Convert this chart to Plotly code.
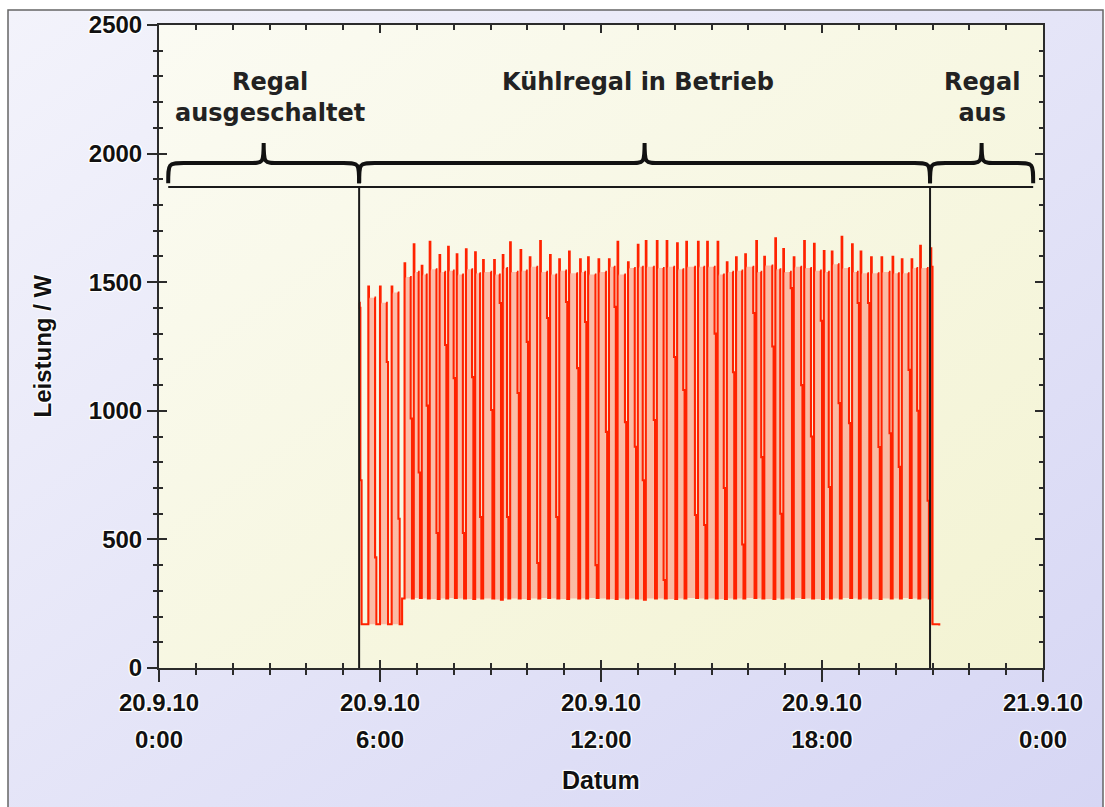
import base64
import pandas as pd
import plotly.graph_objects as go

# ---------------- data ----------------
DAY = "2010-09-20"
X_START = "2010-09-20 00:00"
X_END = "2010-09-21 00:00"

tick_hours = [0, 6, 12, 18, 24]
tick_dates = ["20.9.10", "20.9.10", "20.9.10", "20.9.10", "21.9.10"]
tick_times = ["0:00", "6:00", "12:00", "18:00", "0:00"]

phase_labels = ["Regal<br>ausgeschaltet", "Kühlregal in Betrieb", "Regal<br>aus"]
phase_bounds = ["00:15", "05:26", "20:56", "23:44"]
marker_level = 1870   # W, horizontal line under the braces

# switch-on transient
start_times = ["05:26", "05:27", "05:28", "05:30"]
start_values = [1420, 1400, 730, 170]

# compressor cycles (on / off times, power values in W)
cycle_on = ["05:41", "06:00", "06:19", "06:40", "06:55", "07:08", "07:21", "07:37", "07:51", "08:05",
            "08:20", "08:35", "08:48", "09:06", "09:20", "09:32", "09:49", "10:04", "10:21", "10:37",
            "10:52", "11:08", "11:26", "11:39", "11:56", "12:13", "12:27", "12:44", "13:00", "13:13",
            "13:31", "13:47", "14:04", "14:19", "14:38", "14:53", "15:10", "15:25", "15:40", "15:55",
            "16:13", "16:26", "16:44", "16:57", "17:14", "17:31", "17:47", "18:03", "18:16", "18:32",
            "18:49", "19:03", "19:20", "19:37", "19:55", "20:10", "20:26", "20:40", "20:57"]
cycle_off = ["05:52", "06:11", "06:30", "06:50", "07:03", "07:16", "07:32", "07:46", "08:00", "08:15",
             "08:30", "08:43", "09:01", "09:15", "09:27", "09:44", "09:59", "10:16", "10:32", "10:47",
             "11:03", "11:21", "11:34", "11:51", "12:08", "12:22", "12:39", "12:55", "13:08", "13:26",
             "13:42", "13:59", "14:14", "14:33", "14:48", "15:05", "15:20", "15:35", "15:50", "16:08",
             "16:21", "16:39", "16:52", "17:09", "17:26", "17:42", "17:58", "18:11", "18:27", "18:44",
             "18:58", "19:15", "19:32", "19:50", "20:05", "20:21", "20:35", "20:52", "21:00"]
cycle_peak = [1483, 1483, 1483, 1573, 1647, 1564, 1657, 1606, 1638, 1608,
              1628, 1616, 1586, 1586, 1606, 1655, 1625, 1597, 1660, 1606,
              1589, 1619, 1589, 1597, 1589, 1589, 1657, 1577, 1645, 1660,
              1660, 1660, 1651, 1657, 1657, 1657, 1657, 1577, 1597, 1608,
              1660, 1599, 1671, 1629, 1597, 1660, 1649, 1621, 1619, 1677,
              1647, 1619, 1597, 1597, 1599, 1589, 1589, 1642, 1632]
cycle_plateau = [1440, 1420, 1460, 1520, 1540, 1530, 1550, 1540, 1545, 1530,
                 1550, 1535, 1540, 1530, 1555, 1540, 1545, 1560, 1540, 1530,
                 1545, 1535, 1540, 1530, 1540, 1560, 1530, 1555, 1560, 1560,
                 1555, 1560, 1550, 1560, 1560, 1560, 1530, 1540, 1545, 1560,
                 1540, 1565, 1550, 1540, 1560, 1555, 1545, 1540, 1570, 1555,
                 1540, 1535, 1535, 1540, 1535, 1535, 1555, 1555, 1560]
cycle_mid = [430, 1190, 580, 970, 760, 1020, 525, 1256, 1127, 525,
             1131, 587, 1003, 1419, 587, 1069, 1268, 408, 1361, 587,
             1423, 1166, 1345, 400, 918, 1404, 956, 860, 730, 964,
             342, 1209, 1081, 595, 556, 1300, 700, 1150, 480, 1380,
             820, 1250, 600, 1477, 1100, 900, 1350, 704, 1030, 952,
             1419, 1419, 859, 913, 782, 1159, 1000, 650, 170]
cycle_low = [170, 170, 170, 270, 272, 270, 268, 270, 272, 270,
             268, 270, 270, 266, 270, 270, 268, 270, 272, 270,
             268, 270, 270, 272, 270, 268, 270, 270, 266, 270,
             270, 268, 270, 272, 270, 270, 268, 270, 270, 272,
             270, 268, 270, 270, 272, 270, 268, 270, 270, 272,
             270, 270, 268, 270, 270, 272, 270, 270, 170]

# base-load step and switch-off tail
step_times = ["06:36"]
step_values = [270]
end_times = ["21:11"]
end_values = [165]

# ---------------- build series ----------------
def T(hhmm):
    return pd.Timestamp(f"{DAY} {hhmm}")

MIN = pd.Timedelta(minutes=1)
line_pts = []          # (time, value) of the measured curve, None = pen up
fill_x, fill_y = [], []  # running periods (lighter band)
for t, v in zip(start_times, start_values):
    line_pts.append((T(t), v))
for i in range(len(cycle_on)):
    on, off, low = T(cycle_on[i]), T(cycle_off[i]), cycle_low[i]
    line_pts += [(on, cycle_peak[i]), (on + MIN, cycle_plateau[i]), (on + 2 * MIN, cycle_plateau[i]),
                 (on + 2 * MIN, None),
                 (off - MIN, cycle_plateau[i]), (off, cycle_mid[i]), (off + 2 * MIN, low)]
    fill_x += [on, on, off, off, on, None]
    fill_y += [low, cycle_plateau[i], cycle_plateau[i], low, low, None]
for t, v in zip(step_times, step_values):
    line_pts.append((T(t), v))
for t, v in zip(end_times, end_values):
    line_pts.append((T(t), v))
line_pts = sorted(line_pts, key=lambda p: p[0])   # stable: keeps pen-up order
line_x = [p[0] for p in line_pts]
line_y = [p[1] for p in line_pts]

# ---------------- layout helpers ----------------
W, H = 1105, 807
PL, PR, PT, PB = 159, 1043, 25, 668


def px_x(px):
    return (px - PL) / (PR - PL)


def px_y(py):
    return (PB - py) / (PB - PT)


def hx(hours):
    return hours / 24.0


def wy(watt):
    return watt / 2500.0


def hours_of(hhmm):
    h, m = hhmm.split(":")
    return int(h) + int(m) / 60.0


def svg_uri(c0, c1):
    svg = ('<svg xmlns="http://www.w3.org/2000/svg" width="200" height="200" preserveAspectRatio="none">'
           '<defs><linearGradient id="g" x1="0" y1="0" x2="1" y2="1">'
           f'<stop offset="0" stop-color="{c0}"/><stop offset="1" stop-color="{c1}"/>'
           '</linearGradient></defs><rect width="200" height="200" fill="url(#g)"/></svg>')
    return "data:image/svg+xml;base64," + base64.b64encode(svg.encode()).decode()


AX = "#2b2b2b"
SHADOW = "1px 1px 0 #fff, -1px -1px 0 #fff, 1px -1px 0 #fff, -1px 1px 0 #fff, 0 0 3px #fff"
tickfont = dict(family="Liberation Sans", size=28.5, weight="bold", color="#111", shadow=SHADOW)

fig = go.Figure()
fig.add_trace(go.Scatter(x=fill_x, y=fill_y, mode="lines", fill="toself",
                         fillcolor="rgba(255,115,95,0.45)", line=dict(width=0),
                         showlegend=False, hoverinfo="skip"))
fig.add_trace(go.Scatter(x=line_x, y=line_y, mode="lines", connectgaps=False,
                         line=dict(color="#ff2200", width=2.1, shape="hv"), showlegend=False))
# dummy trace for the overlay axes (inside ticks)
fig.add_trace(go.Scatter(x=[X_START], y=[None], xaxis="x2", yaxis="y2", showlegend=False, hoverinfo="skip"))

tickvals = [pd.Timestamp(X_START) + pd.Timedelta(hours=h) for h in tick_hours]
ticktext = [f"<span style='font-size:24px'>{d}</span><br><span style='font-size:24px'>{t}</span>"
            for d, t in zip(tick_dates, tick_times)]

common_x = dict(type="date", range=[X_START, X_END], tickvals=tickvals, showgrid=False, zeroline=False,
                showline=True, linecolor=AX, linewidth=2, tickcolor=AX, tickwidth=2)
common_y = dict(range=[0, 2500], dtick=500, tick0=0, showgrid=False, zeroline=False,
                showline=True, linecolor=AX, linewidth=2, tickcolor=AX, tickwidth=2)

fig.update_layout(
    width=W, height=H,
    margin=dict(l=PL, r=W - PR, t=PT, b=H - PB, autoexpand=False),
    paper_bgcolor="white", plot_bgcolor="rgba(0,0,0,0)",
    xaxis=dict(**common_x, ticktext=ticktext, ticks="outside", ticklen=12, tickfont=tickfont,
               ticklabelstandoff=-5,
               minor=dict(dtick=3600000, ticks="outside", ticklen=5, tickwidth=2, tickcolor=AX)),
    xaxis2=dict(**common_x, overlaying="x", anchor="y2", side="bottom", ticks="inside", ticklen=8,
                mirror="allticks", showticklabels=False,
                minor=dict(dtick=3600000, ticks="inside", ticklen=5, tickwidth=2, tickcolor=AX)),
    yaxis=dict(**common_y, ticks="outside", ticklen=10,
               tickfont=dict(family="Liberation Sans", size=24, weight="bold", color="#111", shadow=SHADOW),
               minor=dict(dtick=100, ticks="outside", ticklen=4, tickwidth=2, tickcolor=AX)),
    yaxis2=dict(**common_y, overlaying="y", anchor="x2", ticks="inside", ticklen=8, mirror="allticks",
                showticklabels=False,
                minor=dict(dtick=100, ticks="inside", ticklen=4, tickwidth=2, tickcolor=AX)),
    showlegend=False,
)

# backgrounds
fig.add_layout_image(dict(source=svg_uri("#f3f3fb", "#d6d6f4"), xref="paper", yref="paper",
                          x=px_x(8), y=px_y(10), sizex=px_x(1103) - px_x(8), sizey=px_y(10) - px_y(812),
                          sizing="stretch", xanchor="left", yanchor="top", layer="below"))
fig.add_layout_image(dict(source=svg_uri("#fbfbf3", "#f3f3d2"), xref="paper", yref="paper",
                          x=0, y=1, sizex=1, sizey=1, sizing="stretch", xanchor="left", yanchor="top",
                          layer="below"))
# outer frame
fig.add_shape(type="rect", xref="paper", yref="paper", x0=px_x(8), x1=px_x(1103), y0=px_y(812), y1=px_y(10),
              line=dict(color="#666", width=1.5), fillcolor="rgba(0,0,0,0)", layer="below")

# phase markers
hb = [hours_of(s) for s in phase_bounds]
fig.add_shape(type="line", xref="paper", yref="y", x0=hx(hb[0]), x1=hx(hb[-1]),
              y0=marker_level, y1=marker_level, line=dict(color="#1a1a1a", width=2))
for h in hb[1:-1]:
    fig.add_shape(type="line", xref="paper", yref="y", x0=hx(h), x1=hx(h), y0=0, y1=marker_level,
                  line=dict(color="#1a1a1a", width=2))

label_shift = [6, -7, 0]
B_END, B_MID, B_TIP, R = marker_level + 15, 1963, 2041, 0.42
for i, label in enumerate(phase_labels):
    a, b = hb[i], hb[i + 1]
    m = (a + b) / 2
    p = (f"M {hx(a)},{wy(B_END)} "
         f"C {hx(a)},{wy(B_MID)} {hx(a)},{wy(B_MID)} {hx(a + R)},{wy(B_MID)} "
         f"L {hx(m - R)},{wy(B_MID)} "
         f"C {hx(m)},{wy(B_MID)} {hx(m)},{wy(B_MID)} {hx(m)},{wy(B_TIP)} "
         f"C {hx(m)},{wy(B_MID)} {hx(m)},{wy(B_MID)} {hx(m + R)},{wy(B_MID)} "
         f"L {hx(b - R)},{wy(B_MID)} "
         f"C {hx(b)},{wy(B_MID)} {hx(b)},{wy(B_MID)} {hx(b)},{wy(B_END)}")
    fig.add_shape(type="path", xref="paper", yref="paper", path=p, line=dict(color="#111", width=4))
    fig.add_annotation(x=hx(m), y=px_y(66), xref="paper", yref="paper", text=label, showarrow=False,
                       xanchor="center", yanchor="top", xshift=label_shift[i],
                       font=dict(family="DejaVu Sans", size=24, weight="bold", color="#222"))

fig.add_annotation(x=px_x(42), y=0.5, xref="paper", yref="paper", text="Leistung / W", textangle=-90,
                   showarrow=False, xanchor="center", yanchor="middle",
                   font=dict(family="Liberation Sans", size=24, weight="bold", color="#111", shadow=SHADOW))
fig.add_annotation(x=0.5, y=px_y(780), xref="paper", yref="paper", text="Datum", showarrow=False,
                   xanchor="center", yanchor="middle",
                   font=dict(family="Liberation Sans", size=25, weight="bold", color="#111", shadow=SHADOW))

fig.write_html("out.html", post_script="document.body.style.margin='0';",
               config={"displayModeBar": False})
